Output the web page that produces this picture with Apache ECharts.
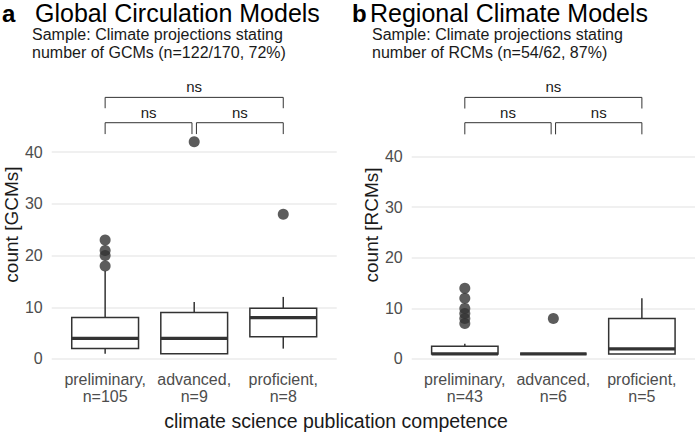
<!DOCTYPE html>
<html>
<head>
<meta charset="utf-8">
<script src="https://cdn.jsdelivr.net/npm/echarts@6/dist/echarts.min.js"></script>
<style>
html,body{margin:0;padding:0;background:#fff;}
#chart{width:697px;height:434px;}
</style>
</head>
<body>
<div id="chart"></div>
<script>
// ---------- data ----------
const categoriesA = ['preliminary,\nn=105', 'advanced,\nn=9', 'proficient,\nn=8'];
const categoriesB = ['preliminary,\nn=43', 'advanced,\nn=6', 'proficient,\nn=5'];
// box stats per category: [lower whisker, Q1, median, Q3, upper whisker]
const boxStatsA = [[1, 2, 4, 8, 17], [1, 1, 4, 9, 11], [2, 4.3, 8, 9.8, 12]];
const boxStatsB = [[1, 1, 1, 2.5, 3], [1, 1, 1, 1, 1], [1, 1, 2, 8, 12]];
// outliers: [category position, value]
const outliersA = [[1, 18], [1, 20], [1, 21], [1, 23], [2, 42], [3, 28]];
const outliersB = [[1, 7], [1, 8], [1, 9], [1, 10], [1, 12], [1, 14], [2, 8]];
// significance brackets: [from, to, line y, tip y]
const bracketsA = [[1, 3, 50.6, 48.5], [1, 1.975, 45.7, 43.5], [2.025, 3, 45.7, 43.5]];
const bracketsB = [[1, 3, 51.7, 49.5], [1, 1.975, 46.7, 44.4], [2.025, 3, 46.7, 44.4]];
const bracketLabels = ['ns', 'ns', 'ns'];
const yTicks = [0, 10, 20, 30, 40];
const xPositions = [1, 2, 3];

// ---------- helpers ----------
const INK = '#333333';
const BOX_HALF = 0.375;
const FONT = "'Liberation Sans', Arial, Helvetica, sans-serif";

function boxData(stats) {
  return stats.map((s, i) => [xPositions[i]].concat(s));
}
function renderBox(params, api) {
  const x = api.value(0);
  const lo = api.coord([x, api.value(1)]);
  const q1 = api.coord([x, api.value(2)]);
  const med = api.coord([x, api.value(3)]);
  const q3 = api.coord([x, api.value(4)]);
  const hi = api.coord([x, api.value(5)]);
  const left = api.coord([x - BOX_HALF, 0])[0];
  const right = api.coord([x + BOX_HALF, 0])[0];
  const ls = {stroke: INK, lineWidth: 1.5, fill: null};
  return {
    type: 'group',
    children: [
      {type: 'line', shape: {x1: lo[0], y1: lo[1], x2: q1[0], y2: q1[1]}, style: ls},
      {type: 'line', shape: {x1: q3[0], y1: q3[1], x2: hi[0], y2: hi[1]}, style: ls},
      {type: 'rect', shape: {x: left, y: q3[1], width: right - left, height: q1[1] - q3[1]},
        style: {stroke: INK, lineWidth: 1.5, fill: '#ffffff'}},
      {type: 'line', shape: {x1: left, y1: med[1], x2: right, y2: med[1]},
        style: {stroke: INK, lineWidth: 3.2}}
    ]
  };
}
function renderBracket(params, api) {
  const a = api.coord([api.value(0), api.value(2)]);
  const b = api.coord([api.value(1), api.value(2)]);
  const aTip = api.coord([api.value(0), api.value(3)]);
  const bTip = api.coord([api.value(1), api.value(3)]);
  return {
    type: 'group',
    children: [
      {type: 'polyline', shape: {points: [[aTip[0], aTip[1]], [a[0], a[1]], [b[0], b[1]], [bTip[0], bTip[1]]]},
        style: {stroke: INK, lineWidth: 1, fill: null}},
      {type: 'text', x: (a[0] + b[0]) / 2, y: a[1] - 3,
        style: {text: bracketLabels[params.dataIndex], fill: '#1a1a1a', fontSize: 15,
          fontFamily: FONT, align: 'center', verticalAlign: 'bottom'}}
    ]
  };
}

function xAxisFor(gridIndex, cats) {
  return {
    type: 'value', gridIndex: gridIndex, min: 0.4, max: 3.6,
    axisLine: {show: false}, axisTick: {show: false}, splitLine: {show: false},
    axisLabel: {
      customValues: xPositions, margin: 2,
      formatter: v => cats[Math.round(v) - 1],
      fontSize: 16, lineHeight: 17, color: '#4d4d4d', fontFamily: FONT
    }
  };
}
function yAxisFor(gridIndex, max, name, gap) {
  return {
    type: 'value', gridIndex: gridIndex, min: -2, max: max,
    name: name, nameLocation: 'middle', nameGap: gap, nameRotate: 90,
    nameTextStyle: {fontSize: 19, color: '#1a1a1a', fontFamily: FONT},
    axisLine: {show: false},
    axisTick: {show: false, customValues: yTicks},
    axisLabel: {customValues: yTicks, margin: 9, fontSize: 16, color: '#4d4d4d', fontFamily: FONT},
    splitLine: {show: true, lineStyle: {color: '#ebebeb', width: 1.6}}
  };
}
function txt(text, x, y, size, opts) {
  return {
    type: 'text', x: x, y: y,
    style: Object.assign({text: text, fontSize: size, fill: '#000',
      fontFamily: FONT, verticalAlign: 'middle', align: 'left'}, opts || {})
  };
}

const chart = echarts.init(document.getElementById('chart'), null, {renderer: 'svg'});
chart.setOption({
  animation: false,
  backgroundColor: '#ffffff',
  grid: [
    {left: 51.7, top: 79.8, width: 285, height: 289.5},
    {left: 411.7, top: 80.7, width: 283.3, height: 288.4}
  ],
  xAxis: [xAxisFor(0, categoriesA), xAxisFor(1, categoriesB)],
  yAxis: [yAxisFor(0, 54, 'count [GCMs]', 29), yAxisFor(1, 55, 'count [RCMs]', 30)],
  graphic: [
    txt('a', 2, 13, 24, {fontWeight: 'bold'}),
    txt('Global Circulation Models', 35, 13, 25),
    txt('Sample: Climate projections stating', 32, 34, 16, {fill: '#1a1a1a'}),
    txt('number of GCMs (n=122/170, 72%)', 32, 52.5, 16, {fill: '#1a1a1a'}),
    txt('b', 352, 13, 24, {fontWeight: 'bold'}),
    txt('Regional Climate Models', 370, 13, 25),
    txt('Sample: Climate projections stating', 372, 34, 16, {fill: '#1a1a1a'}),
    txt('number of RCMs (n=54/62, 87%)', 372, 52.5, 16, {fill: '#1a1a1a'}),
    txt('climate science publication competence', 336, 421, 19.5, {align: 'center', fill: '#1a1a1a'})
  ],
  series: [
    {type: 'custom', xAxisIndex: 0, yAxisIndex: 0, renderItem: renderBox, data: boxData(boxStatsA), z: 2},
    {type: 'custom', xAxisIndex: 1, yAxisIndex: 1, renderItem: renderBox, data: boxData(boxStatsB), z: 2},
    {type: 'scatter', xAxisIndex: 0, yAxisIndex: 0, data: outliersA, symbolSize: 11,
      itemStyle: {color: INK}, z: 3},
    {type: 'scatter', xAxisIndex: 1, yAxisIndex: 1, data: outliersB, symbolSize: 11,
      itemStyle: {color: INK}, z: 3},
    {type: 'custom', xAxisIndex: 0, yAxisIndex: 0, renderItem: renderBracket, data: bracketsA, clip: false, z: 4},
    {type: 'custom', xAxisIndex: 1, yAxisIndex: 1, renderItem: renderBracket, data: bracketsB, clip: false, z: 4}
  ]
});
</script>
</body>
</html>
